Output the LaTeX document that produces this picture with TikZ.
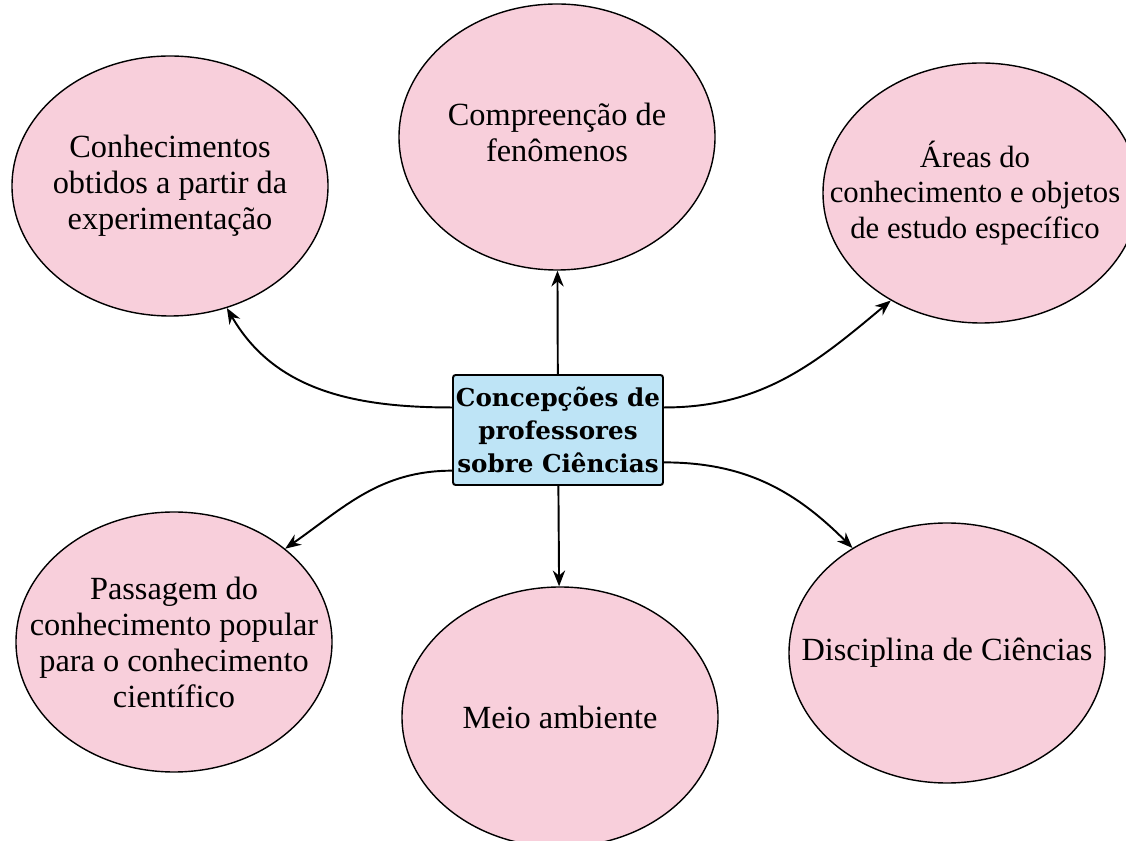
\documentclass[tikz,border=0pt]{standalone}
\usepackage{fontspec}
\setmainfont{Liberation Serif}
\newfontfamily\boxfont{DejaVu Serif}
\usepackage{tikz}
\usetikzlibrary{shapes.geometric,arrows.meta}

\definecolor{ideapink}{RGB}{248,207,219}
\definecolor{boxblue}{RGB}{190,228,246}

\begin{document}
\begin{tikzpicture}[
  idea/.style={ellipse, draw, line width=0.8pt, fill=ideapink, inner sep=0pt,
    minimum width=6.32cm, minimum height=5.2cm},
  ideatext/.style={align=center, inner sep=0pt, font=\fontsize{18.4}{20.5}\selectfont},
  centro/.style={rectangle, draw, line width=1.1pt, rounded corners=1.5pt, fill=boxblue,
    minimum width=4.2cm, minimum height=2.2cm, inner sep=0pt, align=center,
    font=\boxfont\bfseries\fontsize{14}{18.8}\selectfont},
  seta/.style={-{Stealth[length=9pt,width=7pt]},line width=1.1pt}]
\clip (0,0) rectangle (22.52,16.8);

\node[centro] (box) at (11.16,8.2) {Concepções de\\professores\\sobre Ciências};

% as seis ideias
\node[idea] (exp) at (3.40,13.08) {};
\node[ideatext] (exp-t) at (exp) {Conhecimentos\\obtidos a partir da\\experimentação};
\node[idea, minimum height=5.32cm] (fen) at (11.14,14.06) {};
\node[ideatext] (fen-t) at ([yshift=0.1cm]fen) {Compreenção de\\fenômenos};
\node[idea] (areas) at (19.62,12.94) {};
\node[ideatext, font=\fontsize{17.5}{20}\selectfont] (areas-t) at ([xshift=-0.12cm]areas) {Áreas do\\conhecimento e objetos\\de estudo específico};
\node[idea] (pass) at (3.48,3.96) {};
\node[ideatext] (pass-t) at (pass) {Passagem do\\conhecimento popular\\para o conhecimento\\científico};
\node[idea] (meio) at (11.20,2.46) {};
\node[ideatext] (meio-t) at (meio) {Meio ambiente};
\node[idea] (disc) at (18.94,3.74) {};
\node[ideatext] (disc-t) at (disc) {Disciplina de Ciências};

\draw [seta] (box.168) to [out=180,in=-60] (exp.-65);
\draw [seta] (box) -- (fen);
\draw [seta] (box.12) to [out=0,in=-140] (areas.-130);
\draw [seta] (box.201) to [out=180,in=35] (pass.40);
\draw [seta] (box) -- (meio);
\draw [seta] (box.343) to [out=0,in=135] (disc.132);

\end{tikzpicture}
\end{document}
